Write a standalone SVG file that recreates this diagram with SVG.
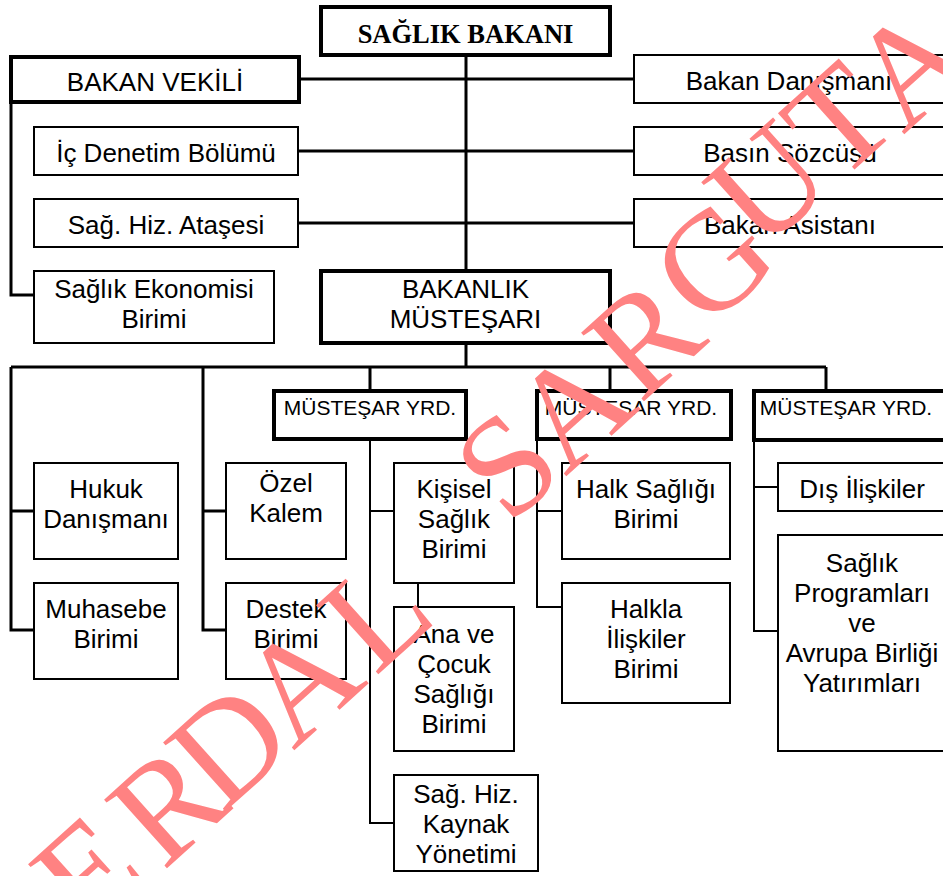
<svg xmlns="http://www.w3.org/2000/svg" width="943" height="876" viewBox="0 0 943 876">
<style>
.b{fill:#fff;stroke:#000;stroke-width:2}
.bt{fill:#fff;stroke:#000;stroke-width:4}
.c{fill:none;stroke:#000;stroke-width:3}
.ct{fill:none;stroke:#000;stroke-width:2}
text{font-family:"Liberation Sans",Arial,sans-serif;font-size:26px;fill:#000;text-anchor:middle}
.y{font-size:21px}
.h{font-family:"Liberation Serif","Times New Roman",serif;font-weight:bold;font-size:26.5px}
.w{font-family:"Liberation Serif","Times New Roman",serif;font-size:142px;fill:#ff8282}
</style>
<rect width="943" height="876" fill="#fff"/>
<g id="connectors">
<path class="c" d="M466,55V271M466,343V367M299,79H634M298,151H634M298,223H634M11,102V295H34M11,367H826M11,367V630H34M11,511H34M203,367V630H226M203,511H226M370,367V391M610,367V391M826,367V391"/>
<path class="ct" d="M370,439V823H394M370,511H394M418,583V607M537,439V607H562M537,511H562M754,440V631H778M754,487H778"/>
</g>
<g id="n-bakan"><rect class="bt" x="321" y="7" width="289" height="48"/><text class="h" x="465.5" y="43">SAĞLIK BAKANI</text></g>
<g id="n-vekil"><rect class="bt" x="11" y="57" width="288" height="45"/><text x="155" y="91">BAKAN VEKİLİ</text></g>
<g id="n-danisman"><rect class="b" x="634" y="55" width="320" height="48"/><text x="789" y="90">Bakan Danışmanı</text></g>
<g id="n-icdenetim"><rect class="b" x="34" y="127" width="264" height="48"/><text x="166" y="162">İç Denetim Bölümü</text></g>
<g id="n-basin"><rect class="b" x="634" y="127" width="320" height="48"/><text x="790" y="162">Basın Sözcüsü</text></g>
<g id="n-atase"><rect class="b" x="34" y="199" width="264" height="48"/><text x="166" y="234">Sağ. Hiz. Ataşesi</text></g>
<g id="n-asistan"><rect class="b" x="634" y="199" width="320" height="48"/><text x="790" y="234">Bakan Asistanı</text></g>
<g id="n-ekonomi"><rect class="b" x="34" y="271" width="240" height="72"/><text x="154" y="298">Sağlık Ekonomisi</text><text x="154" y="328">Birimi</text></g>
<g id="n-mustesar"><rect class="bt" x="321" y="271" width="289" height="72"/><text x="465.5" y="298">BAKANLIK</text><text x="465.5" y="328">MÜSTEŞARI</text></g>
<g id="n-yrd1"><rect class="bt" x="274" y="391" width="192" height="48"/><text class="y" x="370" y="415">MÜSTEŞAR YRD.</text></g>
<g id="n-yrd2"><rect class="bt" x="537" y="391" width="194" height="48"/><text class="y" x="631" y="415">MÜSTEŞAR YRD.</text></g>
<g id="n-yrd3"><rect class="bt" x="754" y="391" width="200" height="49"/><text class="y" x="846" y="415">MÜSTEŞAR YRD.</text></g>
<g id="n-hukuk"><rect class="b" x="34" y="463" width="144" height="96"/><text x="106" y="498">Hukuk</text><text x="106" y="528">Danışmanı</text></g>
<g id="n-muhasebe"><rect class="b" x="34" y="583" width="144" height="96"/><text x="106" y="618">Muhasebe</text><text x="106" y="648">Birimi</text></g>
<g id="n-ozel"><rect class="b" x="226" y="463" width="120" height="96"/><text x="286" y="492">Özel</text><text x="286" y="522">Kalem</text></g>
<g id="n-destek"><rect class="b" x="226" y="583" width="120" height="96"/><text x="286" y="618">Destek</text><text x="286" y="648">Birimi</text></g>
<g id="n-kisisel"><rect class="b" x="394" y="463" width="120" height="120"/><text x="454" y="498">Kişisel</text><text x="454" y="528">Sağlık</text><text x="454" y="558">Birimi</text></g>
<g id="n-ana"><rect class="b" x="394" y="607" width="120" height="144"/><text x="454" y="643">Ana ve</text><text x="454" y="673">Çocuk</text><text x="454" y="703">Sağlığı</text><text x="454" y="733">Birimi</text></g>
<g id="n-kaynak"><rect class="b" x="394" y="775" width="144" height="96"/><text x="466" y="803">Sağ. Hiz.</text><text x="466" y="833">Kaynak</text><text x="466" y="863">Yönetimi</text></g>
<g id="n-halk"><rect class="b" x="562" y="463" width="168" height="96"/><text x="646" y="498">Halk Sağlığı</text><text x="646" y="528">Birimi</text></g>
<g id="n-halkla"><rect class="b" x="562" y="583" width="168" height="120"/><text x="646" y="618">Halkla</text><text x="646" y="648">İlişkiler</text><text x="646" y="678">Birimi</text></g>
<g id="n-dis"><rect class="b" x="778" y="463" width="180" height="48"/><text x="862" y="498">Dış İlişkiler</text></g>
<g id="n-program"><rect class="b" x="778" y="535" width="180" height="216"/><text x="862" y="572">Sağlık</text><text x="862" y="602">Programları</text><text x="862" y="632">ve</text><text x="862" y="662">Avrupa Birliği</text><text x="862" y="692">Yatırımları</text></g>
<g id="watermark">
<text class="w" transform="translate(88,872) rotate(-42)" y="47">E</text>
<text class="w" transform="translate(167,805) rotate(-42)" y="47">R</text>
<text class="w" transform="translate(229,745) rotate(-42)" y="47">D</text>
<text class="w" transform="translate(300,682) rotate(-42)" y="47">A</text>
<text class="w" transform="translate(376,613) rotate(-42)" y="47">L</text>
<text class="w" transform="translate(507,465) rotate(-42)" y="47">S</text>
<text class="w" transform="translate(572,408) rotate(-42)" y="47">A</text>
<text class="w" transform="translate(644,338) rotate(-42)" y="47">R</text>
<text class="w" transform="translate(713,262) rotate(-42)" y="47">G</text>
<text class="w" transform="translate(768,184) rotate(-42)" y="47">U</text>
<text class="w" transform="translate(839,120) rotate(-42)" y="47">T</text>
<text class="w" transform="translate(910,66) rotate(-42)" y="47">A</text>
</g>
</svg>
